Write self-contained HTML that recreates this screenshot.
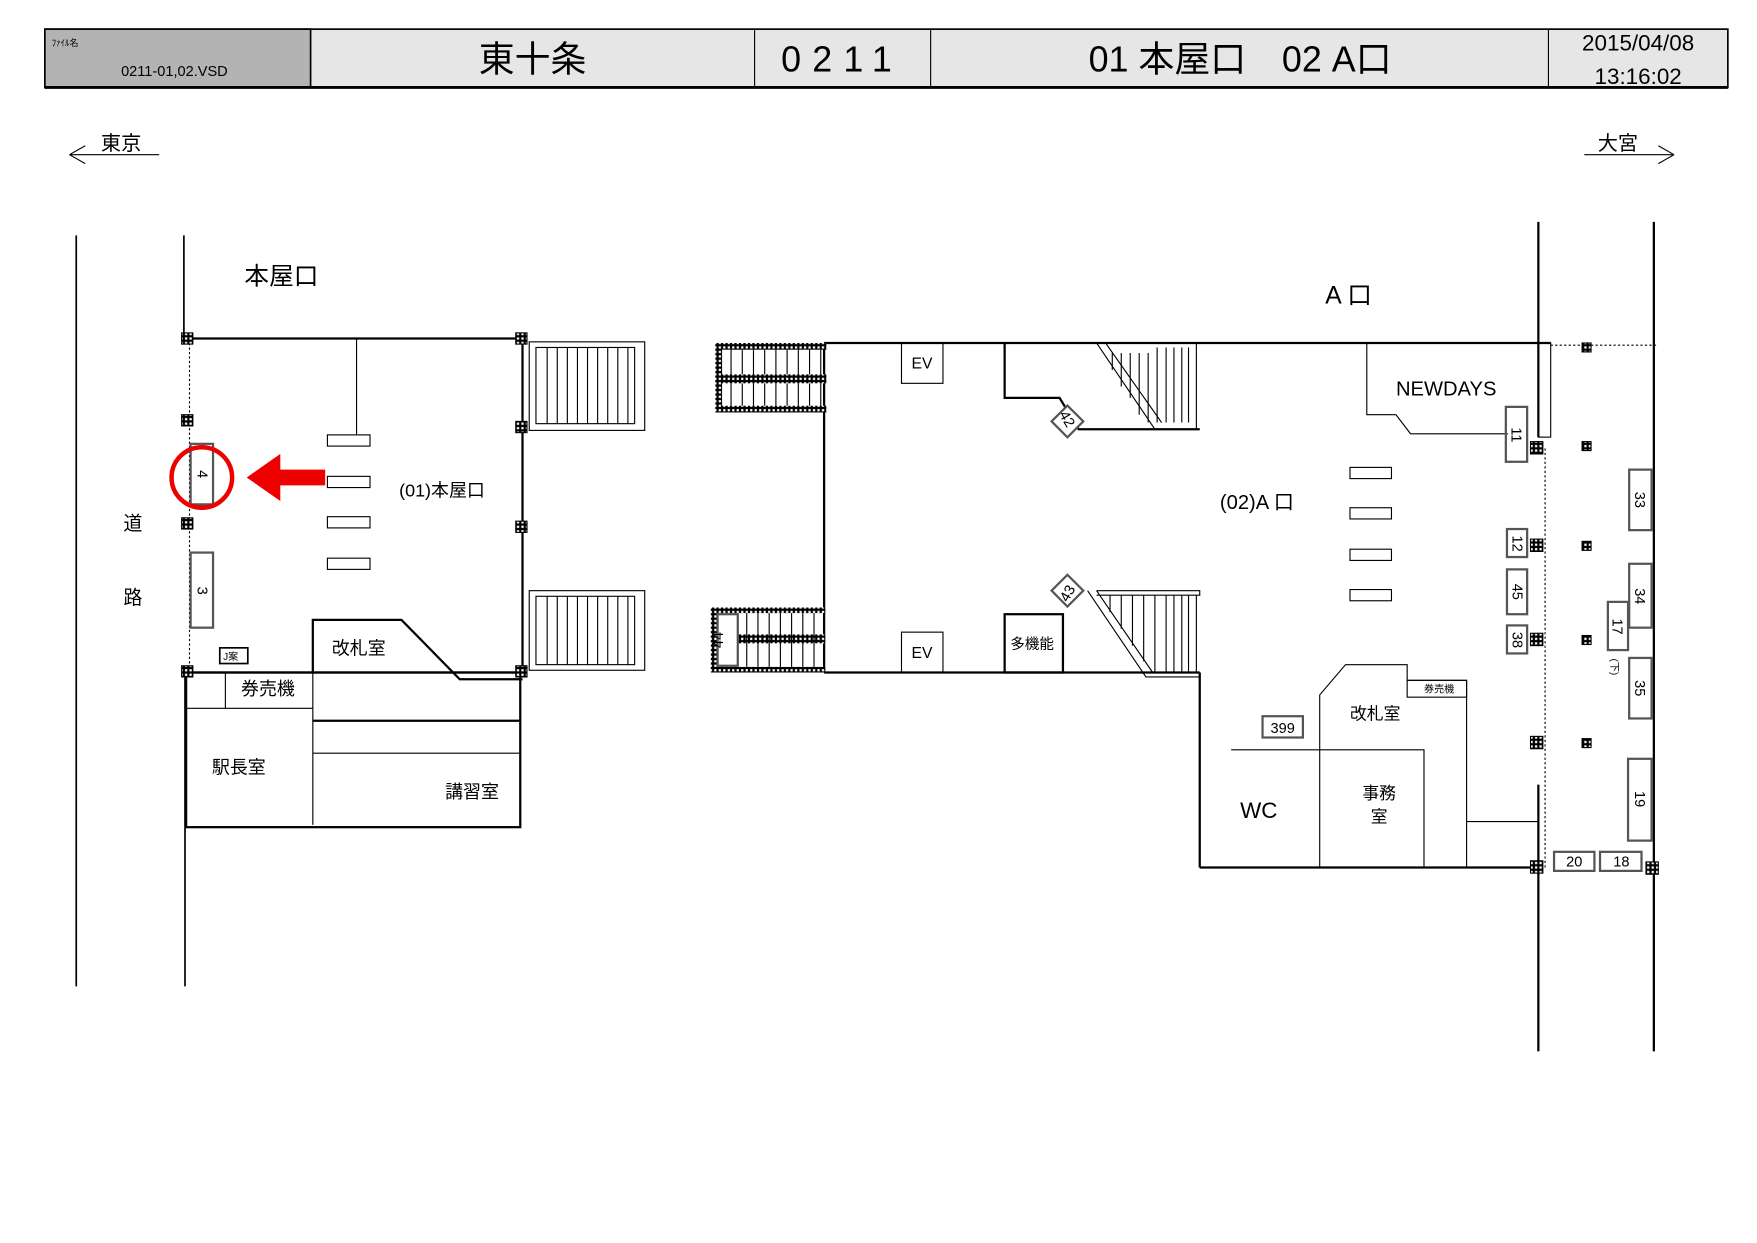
<!DOCTYPE html>
<html><head><meta charset="utf-8"><style>
html,body{margin:0;padding:0;background:#fff;}
svg{display:block;}
text{font-family:"Liberation Sans","Noto Sans CJK JP",sans-serif;fill:#000;}
</style></head><body>
<svg width="1757" height="1243" viewBox="0 0 1567 1109" preserveAspectRatio="none" xmlns="http://www.w3.org/2000/svg">
<defs>
<pattern id="chk" width="4" height="4" patternUnits="userSpaceOnUse"><rect width="4" height="4" fill="#000"/><rect x="1" y="1" width="2" height="2" fill="#fff"/></pattern>
</defs>
<rect x="40" y="26" width="1501" height="52" fill="#e6e6e6" stroke="#000" stroke-width="1.5"/>
<rect x="40" y="26" width="237" height="52" fill="#b3b3b3" stroke="#000" stroke-width="1.5"/>
<line x1="40" y1="78" x2="1541" y2="78" stroke="#000" stroke-width="2.5"/>
<line x1="673" y1="26" x2="673" y2="78" stroke="#000"/>
<line x1="830" y1="26" x2="830" y2="78" stroke="#000"/>
<line x1="1381" y1="26" x2="1381" y2="78" stroke="#000"/>
<text x="46" y="41" font-size="8">ﾌｧｲﾙ名</text>
<text x="108" y="68" font-size="13">0211-01,02.VSD</text>
<text x="475" y="64" font-size="32" text-anchor="middle">東十条</text>
<text x="751" y="64" font-size="32" text-anchor="middle" letter-spacing="10">0211</text>
<text x="1106" y="64" font-size="32" text-anchor="middle">01 本屋口　02 A口</text>
<text x="1461" y="45" font-size="20" text-anchor="middle">2015/04/08</text>
<text x="1461" y="75" font-size="20" text-anchor="middle">13:16:02</text>
<text x="90" y="134" font-size="18">東京</text>
<path d="M142 138 H62 M62 138 L76 130 M62 138 L76 146" stroke="#000" fill="none"/>
<text x="1425" y="134" font-size="18">大宮</text>
<path d="M1413 138 H1493 M1493 138 L1479 130 M1493 138 L1479 146" stroke="#000" fill="none"/>
<g stroke="#000" fill="none">
<line x1="68" y1="210" x2="68" y2="880" stroke-width="1.5"/>
<line x1="164" y1="210" x2="164" y2="300" stroke-width="1.5"/>
<line x1="165" y1="600" x2="165" y2="880" stroke-width="1.5"/>
<line x1="169" y1="302" x2="169" y2="600" stroke-dasharray="2 2"/>
<line x1="167" y1="302" x2="466" y2="302" stroke-width="2"/>
<line x1="466" y1="302" x2="466" y2="600" stroke-width="2"/>
<line x1="318" y1="302" x2="318" y2="388"/>
<rect x="472" y="305" width="103" height="79"/>
<rect x="478" y="310" width="88" height="68"/>
<path d="M488 310V378M497 310V378M506 310V378M515 310V378M524 310V378M533 310V378M542 310V378M551 310V378M560 310V378"/>
<rect x="472" y="527" width="103" height="71"/>
<rect x="478" y="532" width="88" height="61"/>
<path d="M488 532V593M497 532V593M506 532V593M515 532V593M524 532V593M533 532V593M542 532V593M551 532V593M560 532V593"/>
<rect x="292" y="388" width="38" height="10"/><rect x="292" y="425" width="38" height="10"/><rect x="292" y="461" width="38" height="10"/><rect x="292" y="498" width="38" height="10"/>
<rect x="170" y="396" width="20" height="54" stroke="#555" stroke-width="2"/>
<rect x="170" y="493" width="20" height="67" stroke="#555" stroke-width="2"/>
<rect x="196" y="578" width="25" height="14" stroke-width="1.5"/>
<line x1="167" y1="600" x2="466" y2="600" stroke-width="2"/>
<path d="M279 600V553H358L410 606H466" stroke-width="2"/>
<rect x="166" y="600" width="298" height="138" stroke-width="2"/>
<line x1="279" y1="600" x2="279" y2="736"/>
<line x1="201" y1="600" x2="201" y2="632"/>
<line x1="166" y1="632" x2="279" y2="632"/>
<line x1="279" y1="643" x2="464" y2="643" stroke-width="2"/>
<line x1="279" y1="672" x2="464" y2="672"/>
<line x1="735" y1="306" x2="735" y2="600" stroke-width="2"/>
<line x1="735" y1="306" x2="1383" y2="306" stroke-width="2"/>
<line x1="735" y1="600" x2="1070" y2="600" stroke-width="2"/>
<rect x="804" y="306" width="37" height="36"/>
<rect x="804" y="564" width="37" height="36"/>
<path d="M896 306V355H945L962 383H1070" stroke-width="2"/>
<rect x="896" y="548" width="52" height="52" stroke-width="2"/>
<path d="M978 306L1030 383M986 306L1036 377"/>
<path d="M1067 306V383M992 315V330M1000 315V345M1008 315V355M1016 315V370M1024 315V377M1032 310V377M1040 310V377M1047 310V377M1054 310V377M1060 310V377"/>
<path d="M970 527L1022 604H1070M978 527L1028 600M978 531H1070V527H978"/>
<path d="M990 531V546M1000 531V561M1010 531V576M1020 531V590M1030 531V600M1040 531V600M1047 531V600M1054 531V600M1060 531V600M1067 531V600"/>
<line x1="1070" y1="600" x2="1070" y2="774" stroke-width="2"/>
<line x1="1070" y1="774" x2="1372" y2="774" stroke-width="2"/>
<path d="M1219 306V370H1245L1258 387H1345"/>
<line x1="1372" y1="198" x2="1372" y2="390" stroke-width="2"/>
<line x1="1372" y1="700" x2="1372" y2="938" stroke-width="2"/>
<line x1="1475" y1="198" x2="1475" y2="938" stroke-width="2"/>
<rect x="1372" y="306" width="11" height="84"/>
<line x1="1383" y1="308" x2="1478" y2="308" stroke-dasharray="2 2"/>
<line x1="1378" y1="400" x2="1378" y2="774" stroke-dasharray="2 2"/>
<g stroke="#555" stroke-width="2">
<rect x="1343" y="363" width="19" height="49"/>
<rect x="1344" y="472" width="18" height="25"/>
<rect x="1344" y="508" width="18" height="40"/>
<rect x="1344" y="558" width="18" height="25"/>
<rect x="1453" y="419" width="20" height="54"/>
<rect x="1453" y="503" width="20" height="57"/>
<rect x="1434" y="537" width="18" height="43"/>
<rect x="1453" y="587" width="20" height="54"/>
<rect x="1452" y="677" width="21" height="73"/>
<rect x="1386" y="760" width="36" height="17"/>
<rect x="1427" y="760" width="37" height="17"/>
<rect x="1126" y="639" width="36" height="19"/>
</g>
<rect x="1204" y="417" width="37" height="10"/><rect x="1204" y="453" width="37" height="10"/><rect x="1204" y="490" width="37" height="10"/><rect x="1204" y="526" width="37" height="10"/>
<path d="M1177 774V620L1200 593H1255V607H1308V774" />
<rect x="1255" y="607" width="53" height="15"/>
<path d="M1098 669H1270V774"/>
<path d="M1308 733H1372"/>
<rect x="942" y="366" width="20" height="20" transform="rotate(45 952 376)" stroke="#555" stroke-width="2" fill="#fff"/>
<rect x="942" y="517" width="20" height="20" transform="rotate(45 952 527)" stroke="#555" stroke-width="2" fill="#fff"/>
</g>
<g fill="url(#chk)">
<rect x="638" y="306" width="99" height="6"/><rect x="638" y="334" width="99" height="8"/><rect x="638" y="362" width="99" height="6"/><rect x="638" y="306" width="6" height="62"/>
<rect x="634" y="542" width="102" height="5"/><rect x="634" y="566" width="102" height="8"/><rect x="634" y="595" width="102" height="5"/><rect x="634" y="542" width="6" height="58"/>
</g>
<path d="M652 312V334M662 312V334M672 312V334M682 312V334M692 312V334M702 312V334M712 312V334M722 312V334M732 312V334M652 342V362M662 342V362M672 342V362M682 342V362M692 342V362M702 342V362M712 342V362M722 342V362M732 342V362M666 547V595M676 547V595M686 547V595M696 547V595M706 547V595M716 547V595M726 547V595" stroke="#000"/>
<rect x="640" y="548" width="18" height="46" stroke="#555" stroke-width="2" fill="#fff"/>
<g fill="url(#chk)" stroke="#000">
<rect x="162" y="297" width="10" height="10"/><rect x="460" y="297" width="10" height="10"/><rect x="162" y="370" width="10" height="10"/><rect x="460" y="376" width="10" height="10"/>
<rect x="162" y="462" width="10" height="10"/><rect x="460" y="465" width="10" height="10"/><rect x="162" y="594" width="10" height="10"/><rect x="460" y="594" width="10" height="10"/>
<rect x="1365" y="394" width="11" height="11"/><rect x="1365" y="481" width="11" height="11"/><rect x="1365" y="565" width="11" height="11"/><rect x="1365" y="657" width="11" height="11"/><rect x="1365" y="768" width="11" height="11"/><rect x="1468" y="769" width="11" height="11"/>
<rect x="1411" y="306" width="8" height="8"/><rect x="1411" y="394" width="8" height="8"/><rect x="1411" y="483" width="8" height="8"/><rect x="1411" y="567" width="8" height="8"/><rect x="1411" y="659" width="8" height="8"/>
</g>
<circle cx="180" cy="426" r="27" fill="none" stroke="#e00" stroke-width="4"/>
<path d="M220 426L250 405V419H290V433H250V447Z" fill="#e00"/>
<text x="218" y="254" font-size="22">本屋口</text>
<text x="356" y="443" font-size="16">(01)本屋口</text>
<text x="110" y="473" font-size="17">道</text>
<text x="110" y="539" font-size="17">路</text>
<text x="296" y="584" font-size="16">改札室</text>
<text x="215" y="620" font-size="16">券売機</text>
<text x="189" y="690" font-size="16">駅長室</text>
<text x="397" y="712" font-size="16">講習室</text>
<text x="199" y="589" font-size="9">J案</text>
<text x="813" y="329" font-size="14">EV</text>
<text x="813" y="587" font-size="14">EV</text>
<text x="901" y="579" font-size="13">多機能</text>
<text x="1182" y="271" font-size="22">A 口</text>
<text x="1245" y="353" font-size="18">NEWDAYS</text>
<text x="1088" y="454" font-size="18">(02)A 口</text>
<text x="1204" y="642" font-size="15">改札室</text>
<text x="1270" y="618" font-size="9">券売機</text>
<text x="1144" y="654" font-size="13" text-anchor="middle">399</text>
<text x="1106" y="730" font-size="20">WC</text>
<text x="1230" y="713" font-size="15" text-anchor="middle">事務</text>
<text x="1230" y="734" font-size="15" text-anchor="middle">室</text>
<text x="1404" y="773" font-size="13" text-anchor="middle">20</text>
<text x="1446" y="773" font-size="13" text-anchor="middle">18</text>
<g font-size="13" text-anchor="middle">
<text transform="translate(176,423) rotate(90)">4</text>
<text transform="translate(176,527) rotate(90)">3</text>
<text transform="translate(645,571) rotate(-90)">44</text>
<text transform="translate(1348,388) rotate(90)">11</text>
<text transform="translate(1349,485) rotate(90)">12</text>
<text transform="translate(1349,528) rotate(90)">45</text>
<text transform="translate(1349,571) rotate(90)">38</text>
<text transform="translate(1458,446) rotate(90)">33</text>
<text transform="translate(1458,532) rotate(90)">34</text>
<text transform="translate(1438,559) rotate(90)">17</text>
<text transform="translate(1458,614) rotate(90)">35</text>
<text transform="translate(1458,713) rotate(90)">19</text>
<text transform="translate(1437,595) rotate(90)" font-size="9">(下)</text>
<text transform="translate(948,376) rotate(60)">42</text>
<text transform="translate(948,527) rotate(-60) translate(0,9)">43</text>
</g>
</svg>
</body></html>
